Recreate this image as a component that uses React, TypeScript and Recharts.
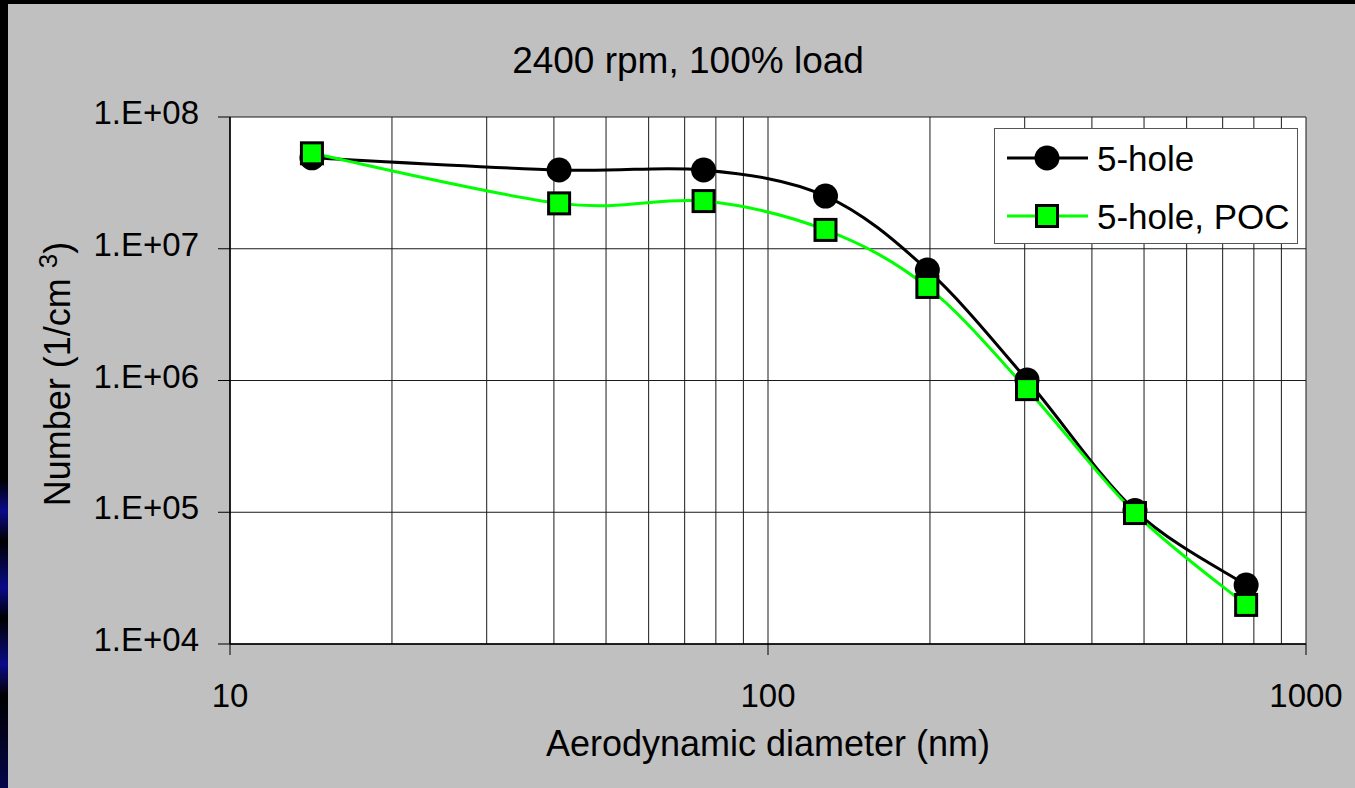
import { LineChart, Line, XAxis, YAxis, CartesianGrid, Legend } from "recharts";

const diameters = [14.2, 40.9, 75.9, 127.9, 197.8, 303, 481, 774];
const fiveHole = [4.9e7, 3.96e7, 3.96e7, 2.51e7, 6.9e6, 1.01e6, 1.03e5, 2.8e4];
const fiveHolePoc = [5.3e7, 2.21e7, 2.3e7, 1.39e7, 5.13e6, 8.6e5, 9.86e4, 1.98e4];

const xTicks = [10, 100, 1000];
const yTicks = [1e4, 1e5, 1e6, 1e7, 1e8];
const yTickLabels = ["1.E+04", "1.E+05", "1.E+06", "1.E+07", "1.E+08"];
const xGrid = [10, 20, 30, 40, 50, 60, 70, 80, 90, 100, 200, 300, 400, 500, 600, 700, 800, 900, 1000];
const yGrid = [1e4, 1e5, 1e6, 1e7, 1e8];

const seriesNames = ["5-hole", "5-hole, POC"];
const title = "2400 rpm, 100% load";

const data = diameters.map((d, i) => ({ d, a: fiveHole[i], b: fiveHolePoc[i] }));

const FONT = '"Liberation Sans", Arial, sans-serif';
const GREEN = "#00ff00";

// excel-like smoothed line (bezier through points)
const excelSmooth = (context: any) => {
  let pts: number[][] = [];
  return {
    areaStart() {},
    areaEnd() {},
    lineStart() {
      pts = [];
    },
    point(x: number, y: number) {
      pts.push([+x, +y]);
    },
    lineEnd() {
      const n = pts.length;
      if (!n) return;
      context.moveTo(pts[0][0], pts[0][1]);
      for (let i = 0; i < n - 1; i++) {
        const p0 = pts[i - 1] || pts[i];
        const p1 = pts[i];
        const p2 = pts[i + 1];
        const p3 = pts[i + 2] || p2;
        context.bezierCurveTo(
          p1[0] + (p2[0] - p0[0]) / 6,
          p1[1] + (p2[1] - p0[1]) / 6,
          p2[0] - (p3[0] - p1[0]) / 6,
          p2[1] - (p3[1] - p1[1]) / 6,
          p2[0],
          p2[1]
        );
      }
    },
  };
};

const CircleDot = (props: any) => {
  const { cx, cy, index } = props;
  if (cx == null || cy == null) return null;
  return <circle key={"c" + index} cx={cx} cy={cy} r={12.5} fill="#000" />;
};

const SquareDot = (props: any) => {
  const { cx, cy, index } = props;
  if (cx == null || cy == null) return null;
  return (
    <rect key={"s" + index} x={cx - 10.5} y={cy - 10.5} width={21} height={21} fill={GREEN} stroke="#000" strokeWidth={3} />
  );
};

const YTick = (props: any) => {
  const { x, y, payload } = props;
  const idx = yTicks.indexOf(payload.value);
  return (
    <text x={x - 19} y={y + 7} textAnchor="end" fontSize={33} fontFamily={FONT} fill="#000">
      {idx >= 0 ? yTickLabels[idx] : ""}
    </text>
  );
};

const XTick = (props: any) => {
  const { x, y, payload } = props;
  return (
    <text x={x} y={y + 52} textAnchor="middle" fontSize={33} fontFamily={FONT} fill="#000">
      {payload.value}
    </text>
  );
};

const XLabel = (props: any) => {
  const { viewBox } = props;
  return (
    <text x={viewBox.x + viewBox.width / 2} y={viewBox.y + 112} textAnchor="middle" fontSize={36} fontFamily={FONT} fill="#000">
      Aerodynamic diameter (nm)
    </text>
  );
};

const YLabel = () => {
  return (
    <text
      x={0}
      y={0}
      transform="translate(70,374) rotate(-90)"
      textAnchor="middle"
      fontSize={36}
      fontFamily={FONT}
      fill="#000"
    >
      Number (1/cm{" "}
      <tspan dy={-13} fontSize={26}>
        3
      </tspan>
      <tspan dy={13}>)</tspan>
    </text>
  );
};

const LegendBox = () => (
  <svg width={304} height={116} style={{ display: "block" }}>
    <rect x={0.5} y={0.5} width={303} height={115} fill="#fff" stroke="#555" strokeWidth={1} />
    <line x1={13} x2={94} y1={30} y2={30} stroke="#000" strokeWidth={3} />
    <circle cx={53} cy={30} r={12.5} fill="#000" />
    <text x={103} y={43} fontSize={35} fontFamily={FONT} fill="#000">
      {seriesNames[0]}
    </text>
    <line x1={13} x2={94} y1={88} y2={88} stroke={GREEN} strokeWidth={3} />
    <rect x={42.5} y={77.5} width={21} height={21} fill={GREEN} stroke="#000" strokeWidth={3} />
    <text x={103} y={101} fontSize={35} fontFamily={FONT} fill="#000">
      {seriesNames[1]}
    </text>
  </svg>
);

export default function App() {
  return (
    <div style={{ position: "fixed", left: 0, top: 0, width: 1355, height: 788, background: "#000", overflow: "hidden" }}>
      <div
        style={{
          position: "absolute",
          left: 0,
          top: 480,
          width: 8,
          height: 308,
          background: "linear-gradient(#000 0%, #0a0a8a 10%, #000 20%, #0a0a8a 35%, #000 45%, #0a0a8a 60%, #000 70%, #05054a 100%)",
        }}
      />
      <div style={{ position: "absolute", left: 8, top: 4, width: 1347, height: 784, background: "#c0c0c0" }} />
      <div
        style={{
          position: "absolute",
          left: 688,
          top: 42,
          transform: "translateX(-50%)",
          whiteSpace: "nowrap",
          fontFamily: FONT,
          fontSize: 37,
          lineHeight: "37px",
          color: "#000",
        }}
      >
        {title}
      </div>
      <div style={{ position: "absolute", left: 0, top: 0 }}>
        <LineChart width={1355} height={788} data={data} margin={{ top: 117, right: 49, bottom: 74, left: 80 }}>
          <CartesianGrid
            fill="#fff"
            stroke="#1a1a1a"
            strokeWidth={1}
            horizontalValues={yGrid}
            verticalValues={xGrid}
          />
          <XAxis
            dataKey="d"
            type="number"
            scale="log"
            domain={[10, 1000]}
            ticks={xTicks}
            allowDataOverflow
            interval={0}
            height={70}
            tickSize={11}
            tickMargin={0}
            tick={<XTick />}
            tickLine={{ stroke: "#000", strokeWidth: 1 }}
            axisLine={{ stroke: "#000", strokeWidth: 1.5 }}
            label={<XLabel />}
          />
          <YAxis
            type="number"
            scale="log"
            domain={[1e4, 1e8]}
            ticks={yTicks}
            allowDataOverflow
            interval={0}
            width={150}
            tickSize={12}
            tickMargin={0}
            tick={<YTick />}
            tickLine={{ stroke: "#000", strokeWidth: 1 }}
            axisLine={{ stroke: "#000", strokeWidth: 1.5 }}
            label={<YLabel />}
          />
          <Legend
            layout="horizontal"
            align="center"
            verticalAlign="middle"
            content={<LegendBox />}
            wrapperStyle={{ position: "absolute", left: 994, top: 128, width: 304, height: 116 }}
          />
          <Line
            dataKey="a"
            name={seriesNames[0]}
            type={excelSmooth as any}
            stroke="#000"
            strokeWidth={3}
            dot={<CircleDot />}
            activeDot={false}
            isAnimationActive={false}
          />
          <Line
            dataKey="b"
            name={seriesNames[1]}
            type={excelSmooth as any}
            stroke={GREEN}
            strokeWidth={3}
            dot={<SquareDot />}
            activeDot={false}
            isAnimationActive={false}
          />
        </LineChart>
      </div>
    </div>
  );
}
